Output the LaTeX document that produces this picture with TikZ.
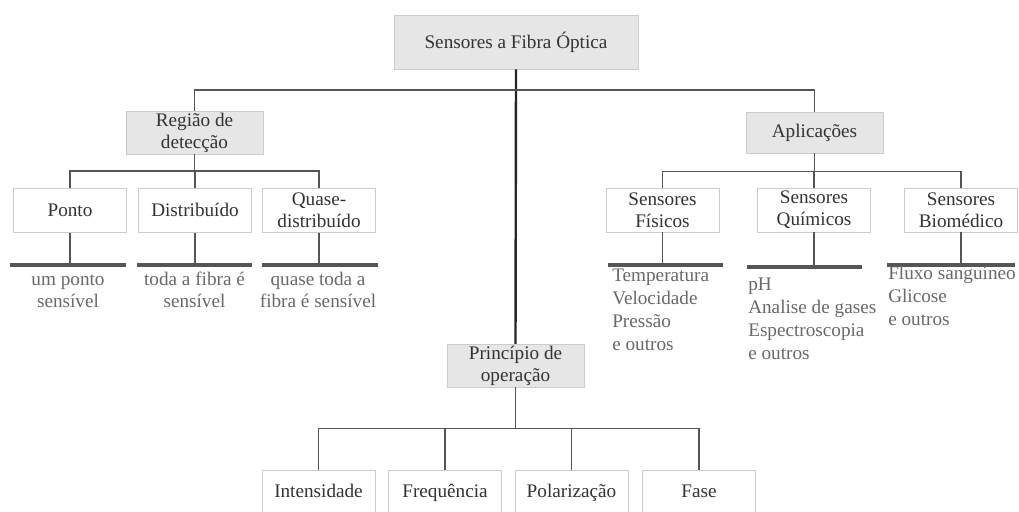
\documentclass[tikz,border=0pt]{standalone}
\usepackage{fontspec}
\setmainfont{Liberation Serif}
\usetikzlibrary{positioning,calc}
\definecolor{boxgray}{RGB}{230,230,230}
\definecolor{edgegray}{RGB}{204,204,204}
\definecolor{linegray}{RGB}{85,85,85}
\definecolor{textgray}{RGB}{105,105,105}

\begin{document}
\begin{tikzpicture}[x=0.75pt, y=-0.75pt,
    graybox/.style={draw=edgegray, fill=boxgray, align=center, inner sep=1pt, text=black!80, font=\fontsize{14.4}{16.5}\selectfont},
    whitebox/.style={draw=edgegray, fill=white, align=center, inner sep=1pt, minimum width=85pt, minimum height=33pt, text=black!80, font=\fontsize{14.4}{16.5}\selectfont},
    flatbox/.style={whitebox, text height=2.05ex, text depth=0.15ex},
    conn/.style={draw=linegray, line width=1.3pt},
    mainline/.style={draw=black!85, line width=1.8pt},
    groundline/.style={draw=linegray, line width=2.4pt},
    listtxt/.style={text=textgray, font=\fontsize{14.4}{17.2}\selectfont, inner sep=0pt, align=left, anchor=base west},
    midtxt/.style={text=textgray, font=\fontsize{14.4}{16}\selectfont, inner sep=0pt, align=center, anchor=base}
]
\clip (0,0) rectangle (1019,511);
\fill[white] (0,0) rectangle (1019,511);

% Root
\node[graybox, minimum width=183pt, minimum height=40.5pt] (root) at (516,42) {Sensores a Fibra Óptica};

% Main branches
\node[graybox, minimum width=103pt, minimum height=32pt] (regiao) at (194.5,132.5) {Região de\\detecção};
\node[graybox, minimum width=103pt, minimum height=31pt] (aplic) at (814.5,132.5) {Aplicações};
\node[graybox, minimum width=103pt, minimum height=32pt] (princ) at (515.5,365.5) {Princípio de\\operação};

% Região de detecção
\node[flatbox] (ponto) at (70,210.5) {Ponto};
\node[flatbox] (dist) at (195,210.5) {Distribuído};
\node[whitebox] (quase) at (319,210.5) {Quase-\\distribuído};

% Aplicações
\node[whitebox] (fis) at (662.5,210) {Sensores\\Físicos};
\node[whitebox] (quim) at (814,210) {Sensores\\Químicos};
\node[whitebox] (bio) at (961,210) {Sensores\\Biomédico};

% Princípio de operação
\node[flatbox] (inten) at (318.5,492) {Intensidade};
\node[flatbox] (freq) at (445,492) {Frequência};
\node[flatbox] (polar) at (571.5,492) {Polarização};
\node[flatbox] (fase) at (699,492) {Fase};

% Lines under the boxes
\foreach \c/\l/\r/\y in {ponto/10/126/265, dist/137/252/265, quase/262/378/265,
    fis/608/723/265, quim/747/862/267, bio/887/1015/265}
  \draw[groundline] (\l,\y) coordinate (\c L) -- (\r,\y) coordinate (\c R);

% Texts under the lines (placed by the baseline of the last line)
\node[midtxt] (pontoT) at (68,307) {um ponto\\sensível};
\node[midtxt] (distT) at (194.5,307) {toda a fibra é\\sensível};
\node[midtxt] (quaseT) at (318,307) {quase toda a\\fibra é sensível};
\node[listtxt] (fisT) at (612,350) {Temperatura\\Velocidade\\Pressão\\e outros};
\node[listtxt] (quimT) at (748,359.5) {pH\\Analise de gases\\Espectroscopia\\e outros};
\node[listtxt] (bioT) at (888,325) {Fluxo sanguíneo\\Glicose\\e outros};

% Connectors
\draw[mainline] (root.south) -- (princ.north);
\coordinate (topbar) at (516,90);
\draw[conn] (regiao.north) |- (topbar) -| (aplic.north);
\foreach \c in {ponto,dist,quase}
  \draw[conn] (regiao.south) -- ++(0,17) -| (\c.north);
\foreach \c in {fis,quim,bio}
  \draw[conn] (aplic.south) -- ++(0,18) -| (\c.north);
\foreach \c in {inten,freq,polar,fase}
  \draw[conn] (princ.south) -- ++(0,41.5) -| (\c.north);
\foreach \c in {ponto,dist,quase,fis,quim,bio}
  \draw[conn] (\c.south) -- (\c.south |- \c L);

\end{tikzpicture}
\end{document}
